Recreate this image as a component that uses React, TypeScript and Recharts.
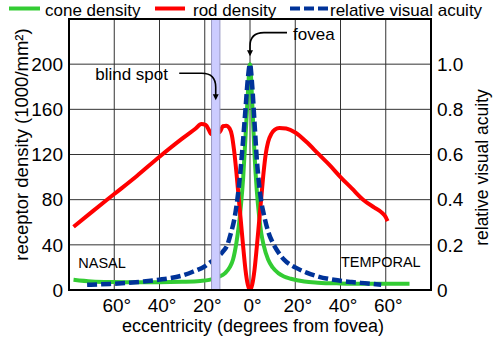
import React from 'react';
import {
  ComposedChart,
  Line,
  XAxis,
  YAxis,
  CartesianGrid,
  ReferenceArea,
  ReferenceDot,
  Legend,
  Label,
} from 'recharts';

// ---- data ----
const rodX = [-78, -70, -60, -50, -40, -30, -24, -21.5, -19.5, -18, -17.2, -13.3, -12, -10.5, -9, -8, -7, -6, -5, -4, -3, -2, -1, 0, 1, 2, 3, 4, 5, 6, 7, 8, 9.5, 11, 13, 16, 20, 25, 30, 35, 40, 45, 50, 55, 58, 60, 60.8];
const rodY = [56, 69, 85, 101, 118, 134, 143, 147, 146, 141, 138, 140, 145, 145.5, 143, 137, 123, 104, 82, 60, 38, 18, 5, 0, 5, 18, 38, 60, 82, 104, 121, 131, 138.5, 142, 143.5, 143, 139.5, 131, 121, 111, 100, 90, 80, 73, 69, 64.5, 61];

const coneX = [-78, -70, -60, -50, -40, -30, -22, -18, -14, -11, -9, -7.5, -6, -5, -4, -3, -2, -1, 0, 1, 2, 3, 4, 5, 6, 8, 10, 12.5, 15, 18, 24, 30, 40, 50, 60, 70.5];
const coneY = [9, 7.5, 7, 6.8, 6.8, 7.2, 8, 9, 11.5, 15, 20, 27, 42, 56, 75, 100, 135, 172, 200, 165, 120, 88, 66, 50, 40, 27, 20, 15, 12, 10, 7.5, 6.5, 5.8, 5.5, 5.5, 5.5];

const acuityX = [-72, -62, -52, -47, -40, -35, -30, -25, -20, -18, -15, -12, -10, -8.5, -7, -6, -5, -4, -3, -2, -1, 0, 1, 2, 3, 4, 5, 6, 8, 10, 12, 15, 20, 25, 30, 37, 45, 52, 58];
const acuityY = [0.023, 0.027, 0.033, 0.038, 0.046, 0.053, 0.064, 0.082, 0.105, 0.12, 0.14, 0.17, 0.2, 0.25, 0.31, 0.37, 0.45, 0.55, 0.67, 0.8, 0.93, 1.0, 0.9, 0.74, 0.58, 0.47, 0.39, 0.34, 0.26, 0.21, 0.175, 0.135, 0.1, 0.077, 0.06, 0.045, 0.035, 0.029, 0.023];

const xTicks = [-80, -60, -40, -20, 0, 20, 40, 60, 80];
const xLabelTicks = [-60, -40, -20, 0, 20, 40, 60];
const leftTicks = [0, 40, 80, 120, 160, 200];
const rightTicks = [0, 0.2, 0.4, 0.6, 0.8, 1.0];
const blindSpot = [-17, -13.3];

const seriesNames = ['cone density', 'rod density', 'relative visual acuity'];
const seriesColors = ['#33cc33', '#ff0000', '#003399'];

const toRows = (xs: number[], ys: number[]) => xs.map((x, i) => ({ x, y: ys[i] }));
const rodData = toRows(rodX, rodY);
const coneData = toRows(coneX, coneY);
const acuityData = toRows(acuityX, acuityY);

const FONT = '"Liberation Sans", Arial, sans-serif';

const legendIconX = [9, 155, 290];
const legendIconW = [31, 30, 38];
const legendTextX = [45, 193, 330];

const renderLegend = (props: any) => {
  const payload = props.payload || [];
  return (
    <svg width={494} height={20} style={{ display: 'block', overflow: 'visible' }}>
      {payload.map((e: any, k: number) => {
        const i = Math.max(0, seriesNames.indexOf(e.value));
        return (
          <g key={k}>
            <line
              x1={legendIconX[i]}
              x2={legendIconX[i] + legendIconW[i]}
              y1={8.5}
              y2={8.5}
              stroke={e.color}
              strokeWidth={4}
              strokeDasharray={i === 2 ? '10 4' : undefined}
            />
            <text x={legendTextX[i]} y={15.5} fontSize={17} fontFamily={FONT} fill="#000">
              {e.value}
            </text>
          </g>
        );
      })}
    </svg>
  );
};

const FoveaNote = (p: any) => {
  const { cx, cy } = p;
  return (
    <g>
      <path
        d={`M ${cx + 37} ${cy - 31.5} L ${cx + 14} ${cy - 31.5} Q ${cx} ${cy - 31.5} ${cx} ${cy - 18} L ${cx} ${cy - 13}`}
        fill="none"
        stroke="#000"
        strokeWidth={1.6}
      />
      <polygon points={`${cx - 3},${cy - 14} ${cx + 3},${cy - 14} ${cx},${cy - 8}`} fill="#000" />
      <text x={cx + 43} y={cy - 24} fontSize={17} fontFamily={FONT} fill="#000">fovea</text>
    </g>
  );
};

const BlindNote = (p: any) => {
  const { cx, cy } = p;
  return (
    <g>
      <path
        d={`M ${cx - 36.5} ${cy - 27} L ${cx - 14} ${cy - 27} Q ${cx} ${cy - 27} ${cx} ${cy - 13} L ${cx} ${cy - 5}`}
        fill="none"
        stroke="#000"
        strokeWidth={1.6}
      />
      <polygon points={`${cx - 3},${cy - 6} ${cx + 3},${cy - 6} ${cx},${cy}`} fill="#000" />
      <text x={cx - 120.5} y={cy - 20.5} fontSize={17} fontFamily={FONT} fill="#000">blind spot</text>
    </g>
  );
};

const NasalNote = (p: any) => (
  <text x={p.cx + 9.3} y={p.cy - 22} fontSize={14.5} fontFamily={FONT} fill="#000">NASAL</text>
);
const TemporalNote = (p: any) => (
  <text x={p.cx - 10.3} y={p.cy - 23} fontSize={14.5} fontFamily={FONT} fill="#000" textAnchor="end">TEMPORAL</text>
);

export default function App() {
  return (
    <div style={{ position: 'absolute', left: 0, top: 0, width: 494, height: 345, background: '#fff' }}>
      <ComposedChart
        width={494}
        height={345}
        margin={{ top: 19, right: 0, bottom: 0, left: 0 }}
        style={{ fontFamily: FONT }}
      >
        <CartesianGrid yAxisId="left" stroke="#333" strokeWidth={1} />
        <XAxis
          type="number"
          dataKey="x"
          domain={[-80, 80]}
          ticks={xTicks}
          allowDataOverflow
          height={55}
          axisLine={false}
          tickLine={false}
          tickSize={0}
          tickMargin={8.5}
          interval={0}
          tickFormatter={(v: number) => (xLabelTicks.includes(v) ? `${Math.abs(v)}°` : '')}
          tick={{ fill: '#000', fontSize: 19, dx: 2.5 }}
        >
          <Label
            content={(lp: any) => {
              const vb = lp.viewBox || { x: 69, y: 290, width: 362, height: 55 };
              return (
                <text x={vb.x + vb.width / 2 + 3} y={vb.y + 41.5} textAnchor="middle" fontSize={18} fontFamily={FONT} fill="#000">
                  eccentricity (degrees from fovea)
                </text>
              );
            }}
          />
        </XAxis>
        <YAxis
          yAxisId="left"
          type="number"
          domain={[0, 240]}
          ticks={leftTicks}
          allowDataOverflow
          width={69}
          axisLine={false}
          tickLine={false}
          tickSize={0}
          tickMargin={6}
          interval={0}
          tick={{ fill: '#000', fontSize: 19 }}
        >
          <Label
            content={(lp: any) => {
              const vb = lp.viewBox || { x: 0, y: 19, width: 69, height: 271 };
              const x = vb.x + 21;
              const y = vb.y + vb.height / 2 - 10;
              return (
                <text x={x} y={y} transform={`rotate(-90, ${x}, ${y})`} textAnchor="middle" dominantBaseline="central" fontSize={18.5} fontFamily={FONT} fill="#000">
                  receptor density (1000/mm²)
                </text>
              );
            }}
          />
        </YAxis>
        <YAxis
          yAxisId="right"
          orientation="right"
          type="number"
          domain={[0, 1.2]}
          ticks={rightTicks}
          allowDataOverflow
          width={63}
          axisLine={false}
          tickLine={false}
          tickSize={0}
          tickMargin={6}
          interval={0}
          tickFormatter={(v: number) => (v === 0 ? '0' : v.toFixed(1))}
          tick={{ fill: '#000', fontSize: 19 }}
        >
          <Label
            content={(lp: any) => {
              const vb = lp.viewBox || { x: 431, y: 19, width: 63, height: 271 };
              const x = vb.x + 50.5;
              const y = vb.y + vb.height / 2 + 13;
              return (
                <text x={x} y={y} transform={`rotate(-90, ${x}, ${y})`} textAnchor="middle" dominantBaseline="central" fontSize={17.5} fontFamily={FONT} fill="#000">
                  relative visual acuity
                </text>
              );
            }}
          />
        </YAxis>

        <Line
          data={coneData}
          dataKey="y"
          yAxisId="left"
          name={seriesNames[0]}
          type="monotone"
          stroke={seriesColors[0]}
          strokeWidth={4}
          dot={false}
          activeDot={false}
          isAnimationActive={false}
        />
        <Line
          data={rodData}
          dataKey="y"
          yAxisId="left"
          name={seriesNames[1]}
          type="monotone"
          stroke={seriesColors[1]}
          strokeWidth={4}
          dot={false}
          activeDot={false}
          isAnimationActive={false}
        />
        <Line
          data={acuityData}
          dataKey="y"
          yAxisId="right"
          name={seriesNames[2]}
          type="monotone"
          stroke={seriesColors[2]}
          strokeWidth={4.5}
          strokeDasharray="10 4"
          dot={false}
          activeDot={false}
          isAnimationActive={false}
        />

        <ReferenceArea
          yAxisId="left"
          x1={blindSpot[0]}
          x2={blindSpot[1]}
          y1={0}
          y2={240}
          fill="#ccccff"
          fillOpacity={1}
          stroke="#9a9ac4"
          strokeWidth={1}
          ifOverflow="visible"
          zIndex={450}
        />
        <ReferenceArea
          yAxisId="left"
          x1={-80}
          x2={80}
          y1={0}
          y2={240}
          fill="none"
          stroke="#000"
          strokeWidth={2}
          ifOverflow="visible"
          zIndex={460}
        />
        <ReferenceDot yAxisId="left" x={0} y={200} r={0} ifOverflow="visible" shape={FoveaNote} zIndex={470} />
        <ReferenceDot yAxisId="left" x={(blindSpot[0] + blindSpot[1]) / 2} y={168} r={0} ifOverflow="visible" shape={BlindNote} zIndex={470} />
        <ReferenceDot yAxisId="left" x={-80} y={0} r={0} ifOverflow="visible" shape={NasalNote} zIndex={470} />
        <ReferenceDot yAxisId="left" x={80} y={0} r={0} ifOverflow="visible" shape={TemporalNote} zIndex={470} />

        <Legend
          verticalAlign="middle"
          layout="horizontal"
          itemSorter={null as any}
          wrapperStyle={{ position: 'absolute', top: 0, left: 0, width: 494, height: 20 }}
          content={renderLegend}
        />
      </ComposedChart>
    </div>
  );
}
